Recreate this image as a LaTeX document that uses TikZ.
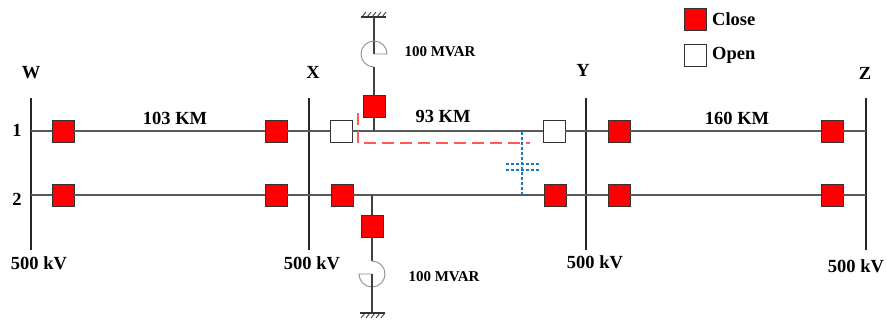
\documentclass[tikz,border=0pt]{standalone}
\usepackage{fontspec}
\setmainfont{Liberation Serif}
\definecolor{brk}{RGB}{255,0,0}
\definecolor{dashred}{RGB}{255,90,90}
\definecolor{dotblue}{RGB}{30,120,200}
\begin{document}
\begin{tikzpicture}[x=1pt,y=-1pt,
  cb/.style={draw=black!80,fill=brk,minimum size=22pt,inner sep=0pt,line width=0.8pt},
  ob/.style={draw=black!80,fill=white,minimum size=22pt,inner sep=0pt,line width=0.8pt},
  bus/.style={line width=1.3pt,black!85},
  tline/.style={line width=1.8pt,black!65},
  lbl/.style={font=\fontsize{18.5}{21}\selectfont\bfseries,inner sep=0pt},
  small/.style={font=\fontsize{15}{17}\selectfont\bfseries,inner sep=0pt},
  react/.style={line width=0.9pt,black!45},
  stem/.style={line width=1.4pt,black!75},
  gnd/.style={line width=1.2pt,black!80}]
\useasboundingbox (0,0) rectangle (886,322);

% buses
\foreach \n/\x in {W/31,X/309,Y/586,Z/866}{
  \coordinate (\n t) at (\x,98);
  \coordinate (\n b) at (\x,250);
  \coordinate (\n1) at (\x,131);
  \coordinate (\n2) at (\x,195);
  \draw[bus] (\n t) -- (\n b);
}

% breakers line 1
\node[cb] (w1)  at (63,131) {};
\node[cb] (x1l) at (276,131) {};
\node[ob] (x1r) at (341,131) {};
\node[ob] (y1l) at (554,131) {};
\node[cb] (y1r) at (619,131) {};
\node[cb] (z1)  at (832,131) {};
% breakers line 2
\node[cb] (w2)  at (63,195) {};
\node[cb] (x2l) at (276,195) {};
\node[cb] (x2r) at (342,195) {};
\node[cb] (y2l) at (555,195) {};
\node[cb] (y2r) at (619,195) {};
\node[cb] (z2)  at (832,195) {};

\draw[tline] (W1) -- (w1) -- (x1l) -- (x1r) -- (y1l) -- (y1r) -- (z1) -- (Z1);
\draw[tline] (W2) -- (w2) -- (x2l) -- (x2r) -- (y2l) -- (y2r) -- (z2) -- (Z2);

% top shunt reactor
\node[cb] (rt) at (374,106) {};
\coordinate (tj) at (374,131);
\draw[stem] (rt) -- (tj);
\coordinate (gt) at (374,17);
\draw[gnd] (361,17) -- (386,17);
\foreach \h in {362,367,...,382}{\draw[line width=0.8pt,black!80] (\h,17) -- (\h+4,12);}
\draw[stem] (gt) -- (374,54);
\draw[react] (374,54) -- (387,54) arc[start angle=0,end angle=-270,radius=13];
\draw[stem] (374,67) -- (rt);

% bottom shunt reactor
\node[cb] (rb) at (372,226) {};
\coordinate (bj) at (372,195);
\draw[stem] (bj) -- (rb);
\coordinate (gb) at (372,313);
\draw[stem] (rb) -- (372,261);
\draw[react] (372,261) arc[start angle=-90,end angle=180,radius=13] -- (372,274);
\draw[stem] (372,274) -- (gb);
\draw[gnd] (360,313) -- (385,313);
\foreach \h in {361,366,...,381}{\draw[line width=0.8pt,black!80] (\h+4,313) -- (\h,318);}

% fault / reconfiguration markers
\draw[dashred,line width=1.8pt,dash pattern=on 12pt off 6pt] (358,113) -- (358,143) -- (530,143);
\draw[dotblue,line width=2pt,dash pattern=on 2.5pt off 2.5pt] (522,132) -- (522,195);
\draw[dotblue,line width=2pt,dash pattern=on 2.5pt off 2.5pt] (506,164) -- (539,164);
\draw[dotblue,line width=2pt,dash pattern=on 2.5pt off 2.5pt] (506,170) -- (539,170);

% labels
\node[lbl] (lW) at (31,73) {W};
\node[lbl] (lX) at (313,72) {X};
\node[lbl] (lY) at (583,70) {Y};
\node[lbl] (lZ) at (865,73) {Z};
\node[lbl] (l1) at (17,130) {1};
\node[lbl] (l2) at (17,199) {2};
\node[lbl] (d1) at (175,118) {103 KM};
\node[lbl] (d2) at (443,116) {93 KM};
\node[lbl] (d3) at (737,118) {160 KM};
\node[lbl] (kW) at (39,263) {500 kV};
\node[lbl] (kX) at (312,263) {500 kV};
\node[lbl] (kY) at (595,262) {500 kV};
\node[lbl] (kZ) at (856,266) {500 kV};
\node[small] (m1) at (440,52) {100 MVAR};
\node[small] (m2) at (444,277) {100 MVAR};

% legend
\node[cb] (lc) at (695,19) {};
\node[lbl,anchor=west] (tc) at (712,19) {Close};
\node[ob] (lo) at (695,55) {};
\node[lbl,anchor=west] (to) at (712,55) {Open};
\end{tikzpicture}
\end{document}
